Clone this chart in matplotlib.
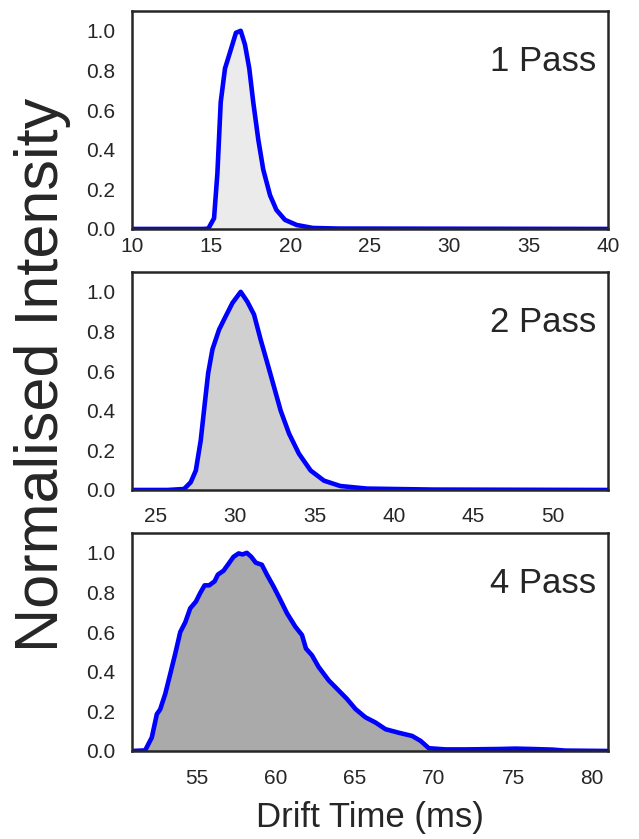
import matplotlib
matplotlib.use('Agg')
import matplotlib.pyplot as plt

plt.rcParams['font.family'] = ['Liberation Sans', 'DejaVu Sans']

#----- drift time profiles (x in ms, y normalised)
x1 = [10.0, 14.5, 14.81, 15.17, 15.38, 15.59, 15.86, 16.17, 16.55, 16.85, 17.12, 17.39,
      17.64, 17.96, 18.27, 18.7, 19.1, 19.64, 20.38, 21.4, 23.0, 40.0]
y1 = [0.0, 0.0, 0.002, 0.054, 0.28, 0.64, 0.81, 0.89, 0.99, 1.0, 0.93, 0.81,
      0.64, 0.45, 0.30, 0.17, 0.096, 0.046, 0.02, 0.005, 0.002, 0.0]

x2 = [23.5, 25.74, 26.78, 27.2, 27.52, 27.83, 28.09, 28.3, 28.57, 28.99, 29.4, 29.83,
      30.35, 30.77, 31.19, 31.61, 32.03, 32.45, 32.87, 33.4, 34.02, 34.76, 35.6,
      36.63, 38.3, 42.5, 53.5]
y2 = [0.0, 0.0, 0.005, 0.039, 0.098, 0.25, 0.44, 0.59, 0.71, 0.81, 0.876, 0.944,
      1.0, 0.95, 0.885, 0.758, 0.64, 0.52, 0.40, 0.284, 0.183, 0.098, 0.047,
      0.02, 0.007, 0.002, 0.0]

x4 = [50.9, 51.73, 52.15, 52.47, 52.68, 53.0, 53.32, 53.63, 53.95, 54.27, 54.58, 54.94,
      55.21, 55.49, 55.78, 56.12, 56.33, 56.69, 57.05, 57.32, 57.64, 57.89, 58.16,
      58.44, 58.73, 59.11, 59.43, 59.85, 60.28, 60.7, 61.23, 61.65, 61.9, 62.28,
      62.7, 63.34, 63.86, 64.49, 65.03, 65.66, 66.29, 66.93, 67.77, 68.61, 69.15,
      69.67, 70.72, 72.0, 74.1, 75.15, 76.2, 77.47, 78.3, 81.0]
y4 = [0.0, 0.003, 0.068, 0.186, 0.21, 0.288, 0.39, 0.49, 0.60, 0.65, 0.72, 0.754,
      0.797, 0.836, 0.836, 0.856, 0.89, 0.91, 0.95, 0.98, 0.997, 0.992, 1.0,
      0.98, 0.95, 0.94, 0.89, 0.83, 0.763, 0.695, 0.627, 0.585, 0.517, 0.483,
      0.424, 0.356, 0.314, 0.263, 0.212, 0.17, 0.144, 0.11, 0.092, 0.076, 0.051,
      0.014, 0.008, 0.008, 0.01, 0.012, 0.01, 0.007, 0.002, 0.0]

labels = ['1 Pass', '2 Pass', '4 Pass']
xlims = [(10, 40), (23.5, 53.5), (50.9, 81)]
xticks = [[10, 15, 20, 25, 30, 35, 40], [25, 30, 35, 40, 45, 50], [55, 60, 65, 70, 75, 80]]
fills = ['#ebebeb', '#d0d0d0', '#aaaaaa']
yticks = [0.0, 0.2, 0.4, 0.6, 0.8, 1.0]
xpads = [6, 12, 13]

dark = '#262626'
fig = plt.figure(figsize=(6.39, 8.39), dpi=100)
tops = [0.9869, 0.6758, 0.3647]
height = 0.2598
data = [(x1, y1), (x2, y2), (x4, y4)]
for i in range(3):
    ax = fig.add_axes([0.2066, tops[i] - height, 0.7449, height])
    x, y = data[i]
    ax.fill_between(x, y, 0, color=fills[i], lw=0)
    ax.plot(x, y, color='#0000ff', lw=3.3, solid_joinstyle='round')
    ax.set_xlim(xlims[i])
    ax.set_ylim(0, 1.1)
    ax.set_xticks(xticks[i])
    ax.set_yticks(yticks)
    ax.set_yticklabels(['%.1f' % v for v in yticks])
    ax.tick_params(length=0, labelsize=15, colors=dark)
    ax.tick_params(axis='y', pad=12)
    ax.tick_params(axis='x', pad=xpads[i])
    for s in ax.spines.values():
        s.set_color(dark)
        s.set_linewidth(1.8)
    ax.text(0.975, 0.725, labels[i], transform=ax.transAxes, ha='right', va='baseline',
            fontsize=25, color=dark)
    if i == 2:
        ax.set_xlabel('Drift Time (ms)', fontsize=25, color=dark, labelpad=9)

fig.text(0.022, 0.553, 'Normalised Intensity', rotation=90, ha='left', va='center',
         fontsize=44, color=dark)

plt.savefig('out.png', dpi=100)
plt.close('all')
